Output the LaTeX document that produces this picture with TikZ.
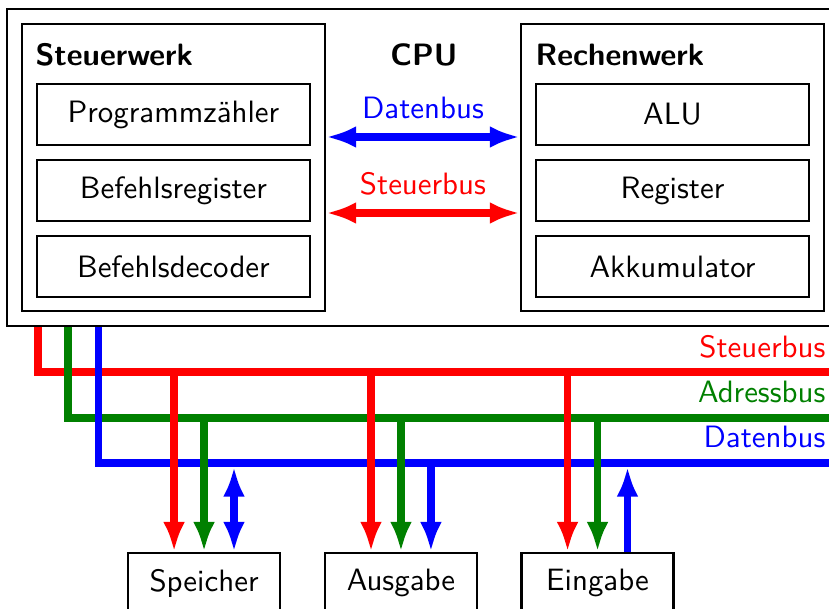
\documentclass[tikz,border=0pt]{standalone}
\usetikzlibrary{arrows.meta,positioning}

\begin{document}
\begin{tikzpicture}[font=\sffamily,
    unit/.style={draw,thick,minimum width=3.448cm,minimum height=3.266cm},
    part/.style={draw,thick,minimum width=3.107cm,minimum height=0.694cm},
    device/.style={draw,thick,minimum width=1.730cm,minimum height=0.683cm},
    title/.style={font=\sffamily\bfseries,inner sep=0pt},
    buslabel/.style={anchor=base east,inner sep=0pt},
    bus/.style={line width=2.4pt,>={Latex[length=9.7pt,width=7.1pt]}},
    sbus/.style={bus,red},
    abus/.style={bus,green!50!black},
    dbus/.style={bus,blue}]
    \useasboundingbox (0,0) rectangle (9.434,-6.930);
    \node[draw,thick,minimum width=9.49cm,minimum height=3.607cm] (cpu) at (4.825,-1.906) {};
    \node[unit] (sw) at (1.974,-1.906) {};
    \node[unit] (rw) at (7.653,-1.906) {};
    \node[title,anchor=base west] (swname) at (0.398,-0.751) {Steuerwerk};
    \node[title,anchor=base west] (rwname) at (6.088,-0.751) {Rechenwerk};
    \node[title,anchor=base] (cpuname) at (4.825,-0.751) {CPU};
    \node[part] (pz) at (1.974,-1.303) {Programmzähler};
    \node[part,below=0.143cm of pz] (br) {Befehlsregister};
    \node[part,below=0.143cm of br] (bd) {Befehlsdecoder};
    \node[part] (alu) at (pz -| rw) {ALU};
    \node[part] (reg) at (br -| rw) {Register};
    \node[part] (akku) at (bd -| rw) {Akkumulator};
    \coordinate (dl) at (0,-1.559);
    \coordinate (sl) at (0,-2.424);
    \draw[dbus,<->] (sw.east |- dl) -- node[above=1.2pt] (dlabel) {Datenbus} (rw.west |- dl);
    \draw[sbus,<->] (sw.east |- sl) -- node[above=1.2pt] (slabel) {Steuerbus} (rw.west |- sl);
    % Busse
    \coordinate (sb) at (0.432,-4.233);
    \coordinate (ab) at (0.774,-4.757);
    \coordinate (db) at (1.121,-5.269);
    \coordinate (sbend) at (9.6,-4.233);
    \coordinate (abend) at (9.6,-4.757);
    \coordinate (dbend) at (9.6,-5.269);
    \draw[sbus] (cpu.south -| sb) -- (sb) -- (sbend);
    \draw[abus] (cpu.south -| ab) -- (ab) -- (abend);
    \draw[dbus] (cpu.south -| db) -- (db) -- (dbend);
    \node[buslabel,red] (sbname) at (9.400,-4.074) {Steuerbus};
    \node[buslabel,green!50!black] (abname) at (9.400,-4.586) {Adressbus};
    \node[buslabel,blue] (dbname) at (9.400,-5.098) {Datenbus};
    \node[device] (sp) at (2.322,-6.635) {Speicher};
    \node[device] (aus) at (4.563,-6.635) {Ausgabe};
    \node[device] (ein) at (6.800,-6.635) {Eingabe};
    \foreach \d in {sp,aus,ein}{
        \draw[sbus,->] ([xshift=-3.41mm]\d.north |- sb) -- ([xshift=-3.41mm]\d.north);
        \draw[abus,->] (\d.north |- ab) -- (\d.north);
    }
    \draw[dbus,<->,shorten <=1.2pt] ([xshift=3.41mm]sp.north |- db) -- ([xshift=3.41mm]sp.north);
    \draw[dbus,->] ([xshift=3.41mm]aus.north |- db) -- ([xshift=3.41mm]aus.north);
    \draw[dbus,<-,shorten <=1.2pt] ([xshift=3.41mm]ein.north |- db) -- ([xshift=3.41mm]ein.north);
\end{tikzpicture}
\end{document}
